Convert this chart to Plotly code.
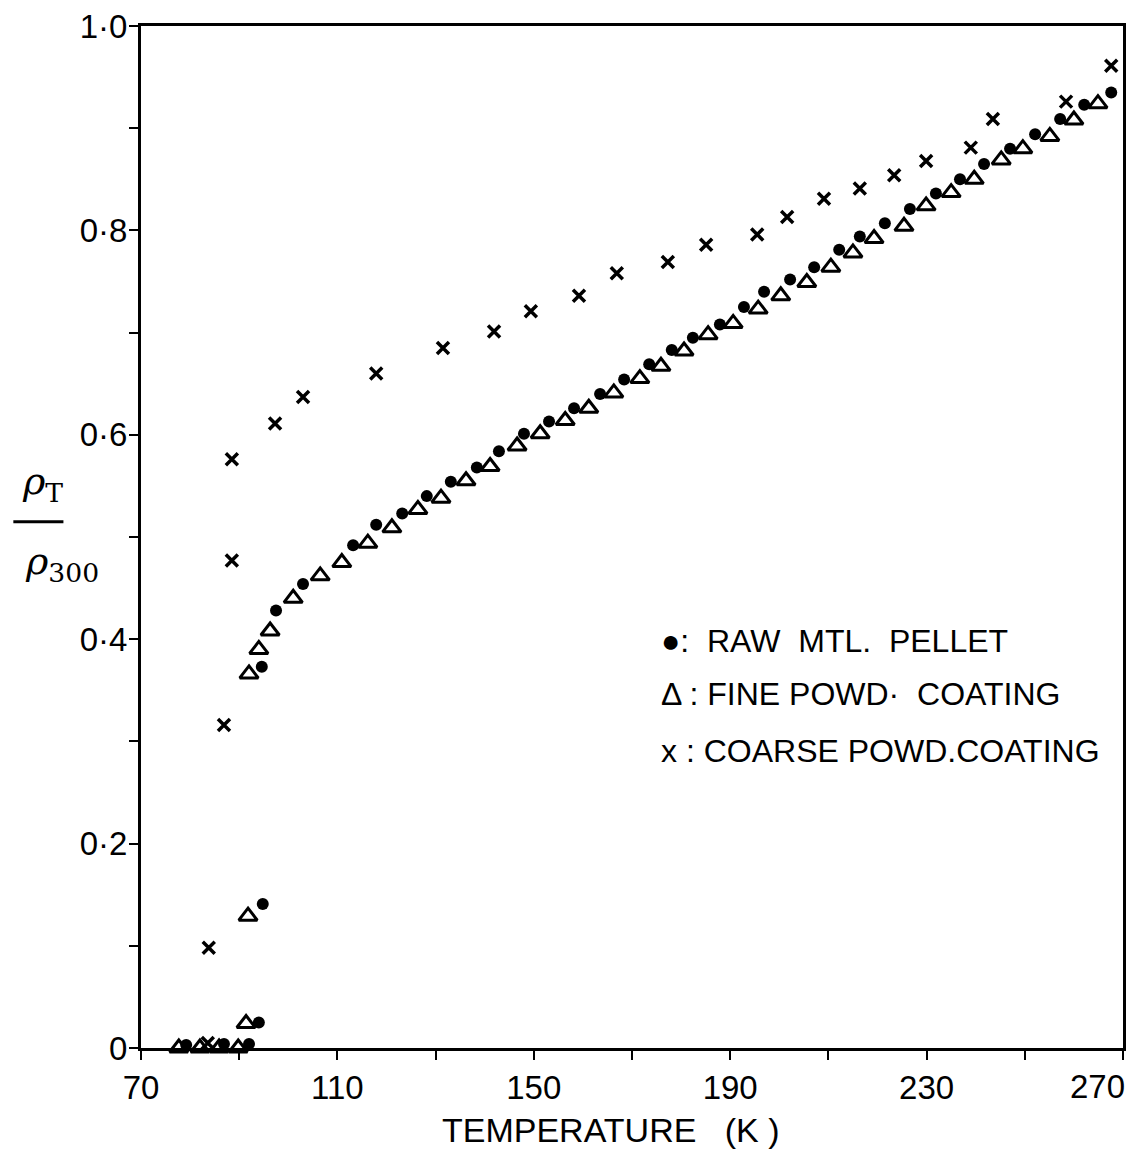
import plotly.graph_objects as go

# Raw material pellet (filled circles)
raw_T = [79.2, 86.9, 92.0, 94.0, 94.8, 94.6, 97.5, 103.0, 113.2, 117.9, 123.2, 128.2, 133.1,
         138.4, 142.9, 148.0, 153.1, 158.2, 163.5, 168.4, 173.5, 178.1, 182.4, 187.9, 192.8,
         196.9, 202.2, 207.1, 212.2, 216.4, 221.5, 226.6, 231.9, 236.8, 241.7, 247.0, 252.1,
         257.2, 262.1, 267.6]
raw_R = [0.003, 0.004, 0.004, 0.025, 0.141, 0.373, 0.428, 0.454, 0.492, 0.512, 0.523, 0.540,
         0.554, 0.568, 0.584, 0.601, 0.613, 0.626, 0.640, 0.654, 0.669, 0.683, 0.695, 0.708,
         0.725, 0.740, 0.752, 0.764, 0.781, 0.794, 0.807, 0.821, 0.836, 0.850, 0.865, 0.880,
         0.894, 0.909, 0.923, 0.935]

# Fine powder coating (open triangles)
fine_T = [77.7, 82.0, 85.9, 89.8, 91.4, 91.8, 92.0, 94.0, 96.3, 101.0, 106.5, 110.9, 116.2,
          121.1, 126.4, 131.1, 136.2, 141.1, 146.6, 151.3, 156.4, 161.2, 166.3, 171.6, 175.9,
          180.6, 185.5, 190.6, 195.7, 200.3, 205.6, 210.5, 215.0, 219.3, 225.4, 229.9, 235.0,
          239.7, 245.2, 249.6, 255.1, 260.0, 264.9]
fine_R = [0.0, 0.0, 0.0, 0.0, 0.024, 0.129, 0.366, 0.390, 0.408, 0.440, 0.462, 0.475, 0.494,
          0.509, 0.527, 0.538, 0.555, 0.569, 0.589, 0.601, 0.614, 0.626, 0.641, 0.655, 0.667,
          0.682, 0.698, 0.709, 0.723, 0.736, 0.749, 0.764, 0.778, 0.792, 0.804, 0.824, 0.837,
          0.850, 0.869, 0.880, 0.892, 0.908, 0.924]

# Coarse powder coating (crosses)
coarse_T = [83.6, 83.8, 86.9, 88.5, 88.5, 97.3, 103.0, 117.9, 131.5, 141.9, 149.4, 159.2,
            166.9, 177.3, 185.1, 195.5, 201.6, 209.1, 216.4, 223.4, 229.9, 239.0, 243.5,
            258.4, 267.6]
coarse_R = [0.005, 0.098, 0.316, 0.477, 0.576, 0.611, 0.637, 0.660, 0.685, 0.701, 0.721,
            0.736, 0.758, 0.769, 0.786, 0.796, 0.813, 0.831, 0.841, 0.854, 0.868, 0.881,
            0.909, 0.926, 0.961]

x_tickvals = [70, 110, 150, 190, 230]
x_last_tick = 270
y_tickvals = [0, 0.2, 0.4, 0.6, 0.8, 1.0]
y_ticktext = ["0", "0·2", "0·4", "0·6", "0·8", "1·0"]

legend_labels = ["●:  RAW  MTL.  PELLET", "Δ : FINE POWD·  COATING", "x : COARSE POWD.COATING"]
x_title = "TEMPERATURE   (K )"

FONT = "Liberation Sans"

fig = go.Figure()
fig.add_trace(go.Scatter(x=raw_T, y=raw_R, mode="markers",
                         marker=dict(symbol="circle", size=12, color="black"),
                         cliponaxis=False, showlegend=False))
fig.add_trace(go.Scatter(x=fine_T, y=fine_R, mode="markers",
                         marker=dict(symbol="triangle-up-open", size=16, color="black",
                                     line=dict(width=3, color="black")),
                         cliponaxis=False, showlegend=False))
fig.add_trace(go.Scatter(x=coarse_T, y=coarse_R, mode="markers",
                         marker=dict(symbol="x-thin-open", size=12, color="black",
                                     line=dict(width=3.5, color="black")),
                         cliponaxis=False, showlegend=False))

# page body adds a small offset, so the figure is slightly smaller than the window
fig.update_layout(
    width=1124, height=1143,
    margin=dict(l=133, r=9, t=18, b=103, autoexpand=False),
    paper_bgcolor="white", plot_bgcolor="white",
    font=dict(family=FONT, color="black", size=34),
    xaxis=dict(range=[70, 270], tickvals=x_tickvals, ticks="outside", ticklen=9,
               tickwidth=2, tickcolor="black", showline=True, linewidth=2.5,
               linecolor="black", mirror=True, showgrid=False, zeroline=False,
               automargin=False, ticklabeloverflow="allow",
               tickfont=dict(size=33, family=FONT),
               minor=dict(dtick=20, tick0=70, ticks="outside", ticklen=9, tickwidth=2,
                          tickcolor="black", showgrid=False)),
    yaxis=dict(range=[0, 1.0], tickvals=y_tickvals, ticktext=y_ticktext, ticks="outside",
               ticklen=9, tickwidth=2, tickcolor="black", showline=True, linewidth=3,
               linecolor="black", mirror=True, showgrid=False, zeroline=False,
               automargin=False, ticklabeloverflow="allow", ticklabelstandoff=-5,
               tickfont=dict(size=33, family=FONT),
               minor=dict(dtick=0.1, tick0=0, ticks="outside", ticklen=9, tickwidth=2,
                          tickcolor="black", showgrid=False)),
)

# last x tick label (kept inside the page)
fig.add_annotation(xref="x", yref="paper", x=x_last_tick, y=0, yshift=-18, xshift=-26,
                   text=str(x_last_tick), showarrow=False, yanchor="top",
                   font=dict(size=33, family=FONT))

# x-axis title
fig.add_annotation(xref="paper", yref="paper", x=0.479, y=0, yshift=-82, text=x_title,
                   showarrow=False, xanchor="center", yanchor="middle",
                   font=dict(size=34, family=FONT))

# y-axis label as a fraction rho_T / rho_300
fig.add_annotation(xref="paper", yref="paper", x=-0.100, y=0.552, text="<i>ρ</i><sub>T</sub>",
                   showarrow=False, font=dict(size=38, family="DejaVu Serif"),
                   xanchor="center", yanchor="middle")
fig.add_shape(type="line", xref="paper", yref="paper", x0=-0.130, x1=-0.079, y0=0.515, y1=0.515,
              line=dict(color="black", width=3))
fig.add_annotation(xref="paper", yref="paper", x=-0.080, y=0.474, text="<i>ρ</i><sub>300</sub>",
                   showarrow=False, font=dict(size=38, family="DejaVu Serif"),
                   xanchor="center", yanchor="middle")

# legend as text
legend_y = [0.398, 0.346, 0.291]
for lbl, ly in zip(legend_labels, legend_y):
    fig.add_annotation(xref="paper", yref="paper", x=0.528, y=ly, text=lbl, showarrow=False,
                       xanchor="left", yanchor="middle", font=dict(size=32, family=FONT))

fig.write_html("out.html")
